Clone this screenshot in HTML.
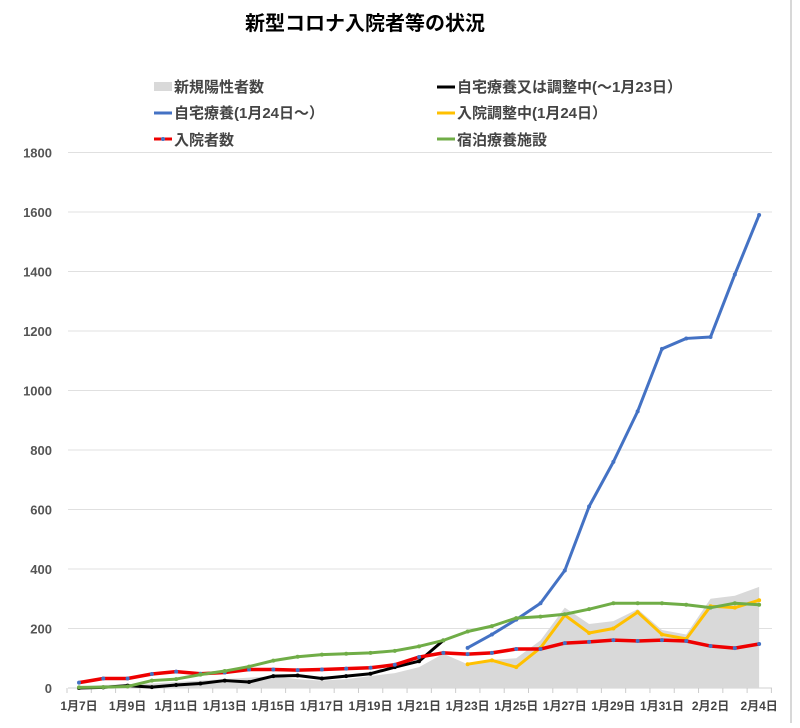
<!DOCTYPE html>
<html><head><meta charset="utf-8"><style>
body{margin:0;background:#fff;}
svg text{font-family:"Liberation Sans","Noto Sans CJK JP",sans-serif;}
</style></head><body>
<svg id="c" width="800" height="723" xmlns="http://www.w3.org/2000/svg">
<rect width="800" height="723" fill="#fff"/>
<line x1="791" y1="0" x2="791" y2="723" stroke="#d8d8d8" stroke-width="2"/>
<text x="365" y="30" font-size="20" font-weight="bold" text-anchor="middle" fill="#000">新型コロナ入院者等の状況</text>
<g font-size="15" font-weight="bold" fill="#444">
<rect x="154" y="82" width="18" height="9" fill="#d9d9d9"/><text x="174" y="92">新規陽性者数</text>
<line x1="437" y1="87" x2="455" y2="87" stroke="#000" stroke-width="3"/><text x="457" y="92">自宅療養又は調整中(～1月23日）</text>
<line x1="154" y1="113" x2="172" y2="113" stroke="#4472c4" stroke-width="3"/><text x="174" y="118">自宅療養(1月24日～）</text>
<line x1="437" y1="113" x2="455" y2="113" stroke="#ffc000" stroke-width="3"/><text x="457" y="118">入院調整中(1月24日）</text>
<line x1="154" y1="139" x2="172" y2="139" stroke="#e00" stroke-width="3"/><circle cx="163" cy="139" r="2" fill="#4472c4"/><text x="174" y="145">入院者数</text>
<line x1="437" y1="139" x2="455" y2="139" stroke="#70ad47" stroke-width="3"/><text x="457" y="145">宿泊療養施設</text>
</g>
<g id="grid"></g>
<g id="series"></g>
</svg>
<script>
var NS="http://www.w3.org/2000/svg";
function el(p,t,a,txt){var e=document.createElementNS(NS,t);for(var k in a)e.setAttribute(k,a[k]);if(txt!=null)e.textContent=txt;p.appendChild(e);return e;}
var g=document.getElementById('grid'),s=document.getElementById('series');
function Y(v){return 688-v*0.2975;}
function X(i){return 79+i*24.29;}
for(var v=0;v<=1800;v+=200){
 if(v>0)el(g,'line',{x1:68,x2:772,y1:Y(v),y2:Y(v),stroke:'#e0e0e0','stroke-width':1});
 el(g,'text',{x:52,y:Y(v)+5,'font-size':13,'font-weight':'bold','text-anchor':'end',fill:'#555'},v);
}
el(g,'line',{x1:68,x2:772,y1:688,y2:688,stroke:'#d0d0d0','stroke-width':1});
var labs=["1月7日","1月9日","1月11日","1月13日","1月15日","1月17日","1月19日","1月21日","1月23日","1月25日","1月27日","1月29日","1月31日","2月2日","2月4日"];
for(var i=0;i<15;i++){el(g,'text',{x:X(i*2),y:710,'font-size':12,'font-weight':'bold','text-anchor':'middle',fill:'#444'},labs[i]);}
for(var i=0;i<=29;i++){var x=67+i*24.29;el(g,'line',{x1:x,x2:x,y1:688,y2:693,stroke:'#ccc'});}
var gray=[5,10,12,15,20,25,30,35,40,30,25,30,40,50,70,115,80,95,100,160,270,215,225,265,195,180,300,310,340];
var gp="M"+X(0)+" 688";
for(var i=0;i<29;i++)gp+=" L"+X(i)+" "+Y(gray[i]);
gp+=" L"+X(28)+" 688Z";
el(s,'path',{d:gp,fill:'#d9d9d9'});
function line(start,data,col,w,mk){
 var d="";data.forEach(function(v,j){d+=(j?"L":"M")+X(start+j)+" "+Y(v)+" ";});
 el(s,'path',{d:d,fill:'none',stroke:col,'stroke-width':w,'stroke-linejoin':'round'});
 data.forEach(function(v,j){el(s,'circle',{cx:X(start+j),cy:Y(v),r:2,fill:mk});});
}
line(0,[0,2,8,3,10,15,25,20,40,42,32,40,48,70,90,160],'#000',3,'#000');
line(16,[135,180,230,285,395,610,760,930,1140,1175,1180,1390,1590],'#4472c4',3,'#4472c4');
line(16,[80,93,70,135,245,185,200,255,180,165,275,270,295],'#ffc000',3,'#ffc000');
line(0,[18,32,32,47,55,48,52,62,62,60,62,65,68,78,104,118,114,118,131,131,151,155,161,158,161,158,141,134,148],'#e00',3.5,'#4472c4');
line(0,[2,3,5,25,30,45,57,72,92,105,112,115,118,125,140,160,190,208,235,240,248,265,285,285,285,280,270,285,280],'#70ad47',3,'#70ad47');
</script>
</body></html>
